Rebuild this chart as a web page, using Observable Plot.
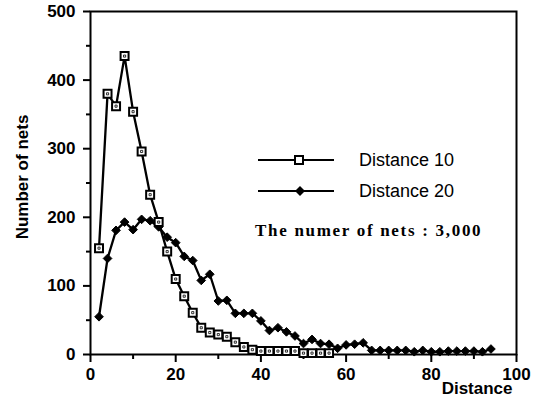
<!DOCTYPE html>
<html>
<head>
<meta charset="utf-8">
<script src="https://cdn.jsdelivr.net/npm/d3@7"></script>
<script src="https://cdn.jsdelivr.net/npm/@observablehq/plot@0.6"></script>
<style>
  html, body { margin: 0; padding: 0; background: #fff; }
  #wrap { position: relative; width: 535px; height: 405px; }
  #legend { position: absolute; left: 0; top: 0; }
</style>
</head>
<body>
<div id="wrap"></div>
<script>
// ---- data ----
const d10X = [2,4,6,8,10,12,14,16,18,20,22,24,26,28,30,32,34,36,38,40,42,44,46,48,50,52,54,56];
const d10Y = [155,380,362,435,354,296,233,193,150,110,85,61,39,32,29,26,18,11,7,5,5,5,5,5,2,2,2,2];
const d20X = [2,4,6,8,10,12,14,16,18,20,22,24,26,28,30,32,34,36,38,40,42,44,46,48,50,52,54,56,58,60,62,64,66,68,70,72,74,76,78,80,82,84,86,88,90,92,94];
const d20Y = [55,140,181,193,182,197,195,186,171,163,143,137,108,117,78,79,60,60,60,49,35,39,33,27,16,22,16,15,9,14,15,17,6,6,6,6,6,4,6,4,4,5,5,5,5,4,8];
const xTicks = [0,20,40,60,80,100];
const xMinor = [10,30,50,70,90];
const yTicks = [0,100,200,300,400,500];
const yMinor = [50,150,250,350,450];
const seriesNames = ["Distance 10", "Distance 20"];
const noteText = "The numer of nets : 3,000";
const xLabel = "Distance";
const yLabel = "Number of nets";

const s10 = d10X.map((x, i) => ({x, y: d10Y[i]}));
const s20 = d20X.map((x, i) => ({x, y: d20Y[i]}));

const chart = Plot.plot({
  width: 535,
  height: 405,
  marginLeft: 90,
  marginRight: 19,
  marginTop: 11,
  marginBottom: 51,
  style: { fontFamily: "Liberation Sans, Arial, sans-serif", fontSize: "17px", fontWeight: "bold", background: "#fff", color: "#000" },
  x: { domain: [0, 100] },
  y: { domain: [0, 500] },
  marks: [
    Plot.axisX({ticks: xTicks, tickSize: 8, tickPadding: 5, label: null, strokeWidth: 2, fontSize: 17, fontWeight: "bold", letterSpacing: "1.2px"}),
    Plot.axisX({ticks: xMinor, tickSize: 5, tickFormat: () => "", label: null, strokeWidth: 2}),
    Plot.axisY({ticks: yTicks, tickSize: 7, tickPadding: 8, label: null, strokeWidth: 2, fontSize: 17, fontWeight: "bold", letterSpacing: "1.2px"}),
    Plot.axisY({ticks: yMinor, tickSize: 4, tickFormat: () => "", label: null, strokeWidth: 2}),
    Plot.frame({stroke: "#000", strokeWidth: 2}),
    Plot.line(s20, {x: "x", y: "y", stroke: "#000", strokeWidth: 2.3}),
    Plot.line(s10, {x: "x", y: "y", stroke: "#000", strokeWidth: 2.3}),
    Plot.dot(s20, {x: "x", y: "y", symbol: "diamond2", r: 3.9, fill: "#000", stroke: "#000", strokeWidth: 1}),
    Plot.dot(s10, {x: "x", y: "y", symbol: "square", r: 4.5, fill: "#fff", stroke: "#000", strokeWidth: 2}),
    Plot.dot(s10, {x: "x", y: "y", symbol: "square", r: 1.2, fill: "none", stroke: "#000", strokeWidth: 0.8}),
    Plot.text([xLabel], {frameAnchor: "bottom-right", dx: -4, dy: 39, text: d => d, fontSize: 17, fontWeight: "bold", textAnchor: "end", letterSpacing: "0.8px"}),
    Plot.text([yLabel], {frameAnchor: "left", dx: -68, dy: -6, rotate: -90, text: d => d, textAnchor: "middle", fontSize: 17, fontWeight: "bold", letterSpacing: "1.3px"})
  ]
});
document.getElementById("wrap").appendChild(chart);

// legend + annotation overlay
const leg = d3.select("#wrap").append("svg")
  .attr("id", "legend").attr("width", 535).attr("height", 405);
const rows = [{name: seriesNames[0], y: 160, sym: "square"}, {name: seriesNames[1], y: 191, sym: "diamond"}];
rows.forEach(r => {
  leg.append("line").attr("x1", 258).attr("x2", 334).attr("y1", r.y).attr("y2", r.y)
    .attr("stroke", "#000").attr("stroke-width", 2);
  if (r.sym === "square") {
    leg.append("rect").attr("x", 295).attr("y", r.y - 4).attr("width", 8).attr("height", 8)
      .attr("fill", "#fff").attr("stroke", "#000").attr("stroke-width", 2);
  } else {
    leg.append("path").attr("d", `M300,${r.y-5}L305,${r.y}L300,${r.y+5}L295,${r.y}Z`).attr("fill", "#000");
  }
  leg.append("text").attr("x", 359).attr("y", r.y).attr("dy", "0.35em")
    .attr("font-family", "Liberation Sans, Arial, sans-serif").attr("font-size", 18)
    .text(r.name);
});
leg.append("text").attr("x", 255).attr("y", 230).attr("dy", "0.35em")
  .attr("font-family", "Liberation Serif, Times New Roman, serif").attr("font-size", 17)
  .attr("font-weight", "bold").attr("letter-spacing", "1.7px")
  .text(noteText);
</script>
</body>
</html>
